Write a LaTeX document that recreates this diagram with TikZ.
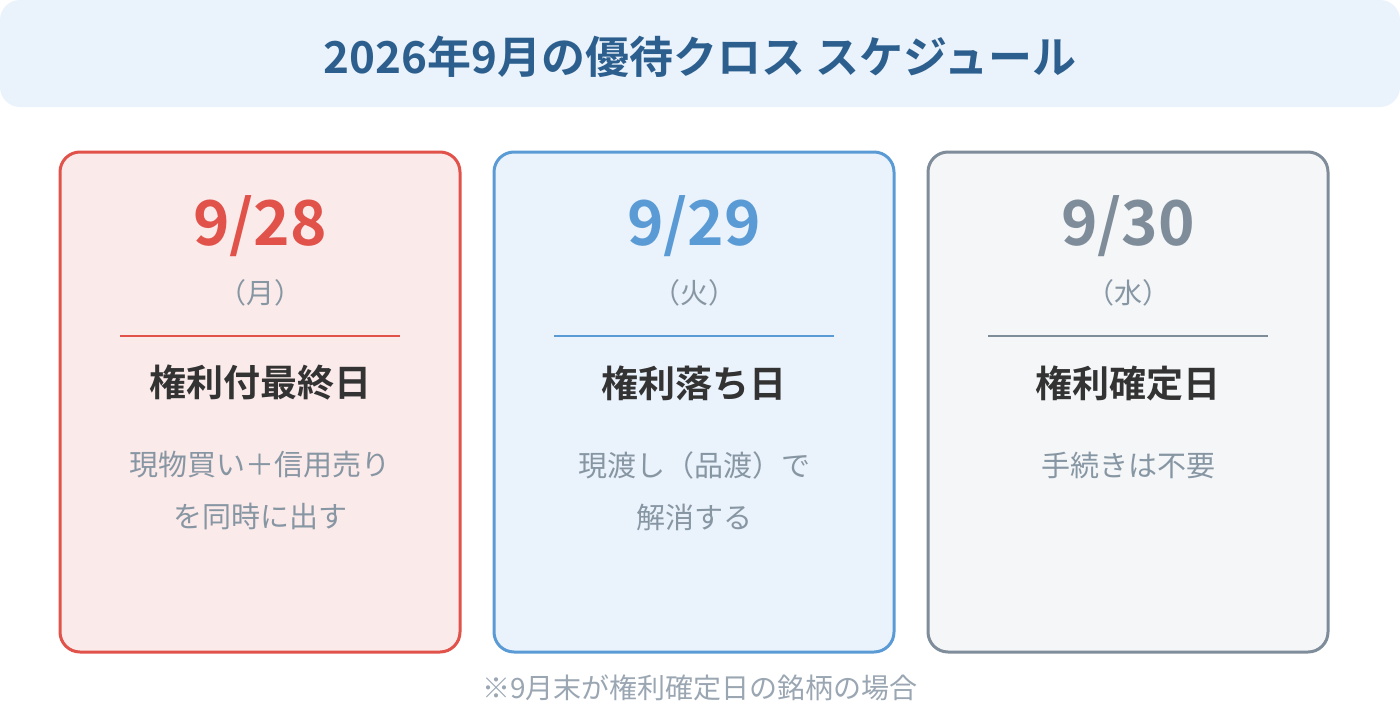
\documentclass[tikz,border=0pt]{standalone}
\usepackage{fontspec}
\setmainfont{Noto Sans CJK JP}[BoldFont={Noto Sans CJK JP Bold}]
\usetikzlibrary{positioning}

\definecolor{titlebg}{HTML}{EAF2FB}
\definecolor{titletext}{HTML}{2C5F8D}
\definecolor{redline}{HTML}{E0524A}
\definecolor{redbg}{HTML}{FBEAEA}
\definecolor{blueline}{HTML}{5B9BD5}
\definecolor{bluebg}{HTML}{EAF2FB}
\definecolor{grayline}{HTML}{7F8C99}
\definecolor{graybg}{HTML}{F4F6F8}
\definecolor{darktext}{HTML}{333333}
\definecolor{softtext}{HTML}{8796A3}
\definecolor{notetext}{HTML}{9AA6B2}

\begin{document}
\begin{tikzpicture} [x=1pt, y=-1pt,
    card/.style={rectangle, rounded corners=20pt, line width=3pt,
        minimum width=400pt, minimum height=500pt, inner sep=0pt},
    datetext/.style={font=\fontsize{62}{70}\selectfont\bfseries},
    daytext/.style={font=\fontsize{28}{34}\selectfont, text=softtext},
    headtext/.style={font=\fontsize{37}{42}\selectfont\bfseries, text=darktext},
    desctext/.style={font=\fontsize{29}{52}\selectfont, text=softtext, align=center},
    divider/.style={line width=1.5pt}]

\useasboundingbox (0,0) rectangle (1400,720);

% Title
\node (banner) [rectangle, rounded corners=20pt, fill=titlebg, minimum width=1400pt,
    minimum height=107pt, inner sep=0pt] at (700,53.5) {};
\node (title) [font=\fontsize{44}{50}\selectfont\bfseries, text=titletext] at (700,57)
    {2026年9月の優待クロス スケジュール};

% Cards
\node (card1) [card, draw=redline, fill=redbg] at (260,402) {};
\node (card2) [card, draw=blueline, fill=bluebg] at (694,402) {};
\node (card3) [card, draw=grayline, fill=graybg] at (1128,402) {};

% 9/28
\node (date1) [datetext, text=redline] at (260,226) {9/28};
\node (day1) [daytext] at (260,293) {（月）};
\draw [divider, redline] (120,336) -- (400,336);
\node (head1) [headtext] at (260,383) {権利付最終日};
\node (desc1) [desctext] at (260,491) {現物買い＋信用売り\\を同時に出す};

% 9/29
\node (date2) [datetext, text=blueline] at (694,226) {9/29};
\node (day2) [daytext] at (694,293) {（火）};
\draw [divider, blueline] (554,336) -- (834,336);
\node (head2) [headtext] at (694,383) {権利落ち日};
\node (desc2) [desctext] at (694,491) {現渡し（品渡）で\\解消する};

% 9/30
\node (date3) [datetext, text=grayline] at (1128,226) {9/30};
\node (day3) [daytext] at (1128,293) {（水）};
\draw [divider, grayline] (988,336) -- (1268,336);
\node (head3) [headtext] at (1128,383) {権利確定日};
\node (desc3) [desctext] at (1128,465) {手続きは不要};

% Note
\node (note) [font=\fontsize{28}{32}\selectfont, text=notetext] at (700,688)
    {※9月末が権利確定日の銘柄の場合};
\end{tikzpicture}
\end{document}
